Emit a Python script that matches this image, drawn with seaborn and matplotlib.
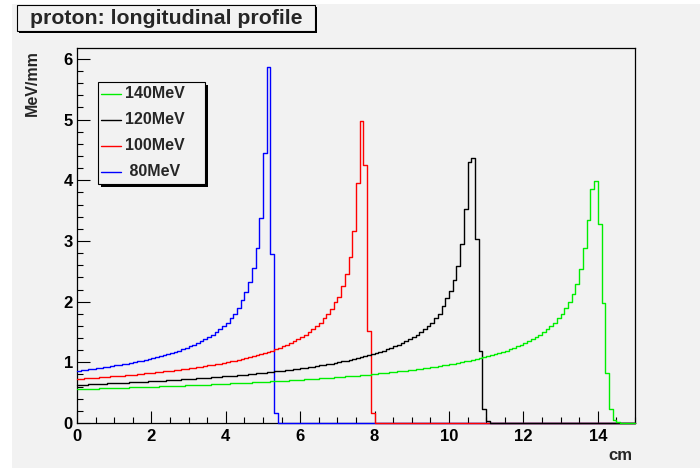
import numpy as np
import pandas as pd
import matplotlib
matplotlib.use("Agg")
import matplotlib.pyplot as plt
from matplotlib.patches import Rectangle
from matplotlib.lines import Line2D
from matplotlib.ticker import MultipleLocator
import seaborn as sns

# Longitudinal energy-deposit profiles of protons in water, 1 mm depth bins (0-15 cm).
n_bins = 150
depth_range_cm = (0, 15)
bin_centers_cm = 0.05 + 0.1 * np.arange(n_bins)

# dE/dx per bin [MeV/mm], listed from depth 0 until the beam has stopped.
dedx_80mev = [
    0.863, 0.870, 0.878, 0.886, 0.894, 0.902, 0.910, 0.919, 0.928, 0.938,
    0.948, 0.958, 0.968, 0.979, 0.990, 1.002, 1.014, 1.027, 1.040, 1.054,
    1.068, 1.084, 1.099, 1.116, 1.133, 1.152, 1.171, 1.192, 1.214, 1.237,
    1.262, 1.288, 1.316, 1.347, 1.380, 1.416, 1.454, 1.497, 1.545, 1.597,
    1.656, 1.723, 1.800, 1.90, 2.03, 2.16, 2.33, 2.56, 2.89, 3.38,
    4.45, 5.87, 2.79, 0.16,
]
dedx_100mev = [
    0.726, 0.730, 0.735, 0.739, 0.743, 0.748, 0.753, 0.757, 0.762, 0.767,
    0.772, 0.777, 0.782, 0.788, 0.793, 0.799, 0.804, 0.810, 0.816, 0.822,
    0.829, 0.835, 0.842, 0.849, 0.856, 0.863, 0.870, 0.878, 0.886, 0.894,
    0.902, 0.910, 0.919, 0.928, 0.938, 0.948, 0.958, 0.968, 0.979, 0.990,
    1.002, 1.014, 1.027, 1.040, 1.054, 1.068, 1.084, 1.099, 1.116, 1.133,
    1.152, 1.171, 1.192, 1.214, 1.237, 1.262, 1.288, 1.316, 1.347, 1.380,
    1.416, 1.454, 1.497, 1.545, 1.597, 1.656, 1.723, 1.800, 1.88, 1.99,
    2.08, 2.25, 2.45, 2.73, 3.17, 3.96, 4.97, 4.25, 1.52, 0.16,
]
dedx_120mev = [
    0.629, 0.632, 0.634, 0.637, 0.639, 0.642, 0.645, 0.648, 0.651, 0.654,
    0.657, 0.659, 0.663, 0.666, 0.669, 0.672, 0.675, 0.678, 0.682, 0.685,
    0.688, 0.692, 0.695, 0.699, 0.703, 0.707, 0.710, 0.714, 0.718, 0.722,
    0.726, 0.730, 0.735, 0.739, 0.743, 0.748, 0.753, 0.757, 0.762, 0.767,
    0.772, 0.777, 0.782, 0.788, 0.793, 0.799, 0.804, 0.810, 0.816, 0.822,
    0.829, 0.835, 0.842, 0.849, 0.856, 0.863, 0.870, 0.878, 0.886, 0.894,
    0.902, 0.910, 0.919, 0.928, 0.938, 0.948, 0.958, 0.968, 0.979, 0.990,
    1.002, 1.014, 1.027, 1.040, 1.054, 1.068, 1.084, 1.099, 1.116, 1.133,
    1.152, 1.171, 1.192, 1.214, 1.237, 1.262, 1.288, 1.316, 1.347, 1.380,
    1.416, 1.454, 1.497, 1.545, 1.597, 1.656, 1.723, 1.800, 1.92, 2.06,
    2.17, 2.35, 2.58, 2.95, 3.53, 4.30, 4.37, 3.03, 1.18, 0.23,
    0.03,
]
dedx_140mev = [
    0.559, 0.561, 0.563, 0.565, 0.566, 0.568, 0.570, 0.572, 0.574, 0.576,
    0.578, 0.580, 0.582, 0.584, 0.586, 0.588, 0.590, 0.592, 0.594, 0.596,
    0.598, 0.600, 0.603, 0.605, 0.607, 0.609, 0.612, 0.614, 0.617, 0.619,
    0.621, 0.624, 0.626, 0.629, 0.632, 0.634, 0.637, 0.639, 0.642, 0.645,
    0.648, 0.651, 0.654, 0.657, 0.659, 0.663, 0.666, 0.669, 0.672, 0.675,
    0.678, 0.682, 0.685, 0.688, 0.692, 0.695, 0.699, 0.703, 0.707, 0.710,
    0.714, 0.718, 0.722, 0.726, 0.730, 0.735, 0.739, 0.743, 0.748, 0.753,
    0.757, 0.762, 0.767, 0.772, 0.777, 0.782, 0.788, 0.793, 0.799, 0.804,
    0.810, 0.816, 0.822, 0.829, 0.835, 0.842, 0.849, 0.856, 0.863, 0.870,
    0.878, 0.886, 0.894, 0.902, 0.910, 0.919, 0.928, 0.938, 0.948, 0.958,
    0.968, 0.979, 0.990, 1.002, 1.014, 1.027, 1.040, 1.054, 1.068, 1.084,
    1.099, 1.116, 1.133, 1.152, 1.171, 1.192, 1.214, 1.237, 1.262, 1.288,
    1.316, 1.347, 1.380, 1.416, 1.454, 1.497, 1.545, 1.597, 1.656, 1.723,
    1.800, 1.90, 1.99, 2.13, 2.29, 2.54, 2.88, 3.35, 3.86, 3.98,
    3.28, 1.97, 0.83, 0.23, 0.05, 0.01,
]

energy_labels = ["80MeV", "100MeV", "120MeV", "140MeV"]
line_colors = ["#0000ff", "#ff0000", "#000000", "#00ee00"]
profiles = [dedx_80mev, dedx_100mev, dedx_120mev, dedx_140mev]

BG = "#f2f2f2"
W, H = 700, 468

sns.set_theme(style="ticks")
plt.rcParams["font.family"] = ["Liberation Sans", "DejaVu Sans"]
plt.rcParams["font.weight"] = "bold"
plt.rcParams["axes.edgecolor"] = "black"
plt.rcParams["xtick.color"] = "black"
plt.rcParams["ytick.color"] = "black"


def fx(px):
    return px / W


def fy(py):
    return 1 - py / H


fig = plt.figure(figsize=(W / 100, H / 100), dpi=100, facecolor="white")
fig.patches.append(Rectangle((fx(12), 0), 1 - fx(12), fy(4),
                             transform=fig.transFigure, facecolor=BG,
                             edgecolor="none", zorder=-10))

ax = fig.add_axes([fx(77), fy(423), fx(635) - fx(77), fy(48) - fy(423)])
ax.set_facecolor(BG)

# lower energies first, so each later histogram lies over the earlier ones
for label, values, color in zip(energy_labels, profiles, line_colors):
    df = pd.DataFrame({"depth": bin_centers_cm[:len(values)], "dedx": values})
    sns.histplot(data=df, x="depth", weights="dedx", bins=n_bins,
                 binrange=depth_range_cm, element="step", fill=False,
                 color=color, linewidth=1.0, clip_on=False, zorder=3, ax=ax)

ax.set_xlim(*depth_range_cm)
ax.set_ylim(0, 6.18)
ax.set_xlabel("")
ax.set_ylabel("")
ax.xaxis.set_major_locator(MultipleLocator(2))
ax.xaxis.set_minor_locator(MultipleLocator(0.5))
ax.yaxis.set_major_locator(MultipleLocator(1))
ax.yaxis.set_minor_locator(MultipleLocator(0.2))
ax.tick_params(which="both", direction="in", top=False, right=False,
               width=0.8, labelsize=12)
ax.tick_params(which="major", length=9)
ax.tick_params(which="minor", length=4.5)
ax.tick_params(axis="x", pad=4)
ax.tick_params(axis="y", pad=3)
for spine in ax.spines.values():
    spine.set_linewidth(0.9)
    spine.set_color("black")

# axis titles at the far ends of the axes
fig.text(fx(32), fy(50), "MeV/mm", rotation=90, ha="center", va="top",
         fontsize=11.5, fontweight="bold")
fig.text(fx(632), fy(455), "cm", ha="right", va="center",
         fontsize=12, fontweight="bold")

# title box with drop shadow
fig.patches.append(Rectangle((fx(19), fy(33)), fx(317) - fx(19), fy(7) - fy(33),
                             transform=fig.transFigure, facecolor="black",
                             edgecolor="none", zorder=5))
fig.patches.append(Rectangle((fx(17), fy(31)), fx(315) - fx(17), fy(5) - fy(31),
                             transform=fig.transFigure, facecolor=BG,
                             edgecolor="black", linewidth=0.8, zorder=6))
fig.text(fx(166), fy(18.5), "proton: longitudinal profile", ha="center",
         va="center", fontsize=15.3, fontweight="bold", zorder=7)

# legend box with drop shadow, highest energy on top
fig.patches.append(Rectangle((fx(101), fy(187)), fx(208) - fx(101), fy(85) - fy(187),
                             transform=fig.transFigure, facecolor="black",
                             edgecolor="none", zorder=5))
fig.patches.append(Rectangle((fx(98), fy(184)), fx(205) - fx(98), fy(82) - fy(184),
                             transform=fig.transFigure, facecolor=BG,
                             edgecolor="black", linewidth=0.8, zorder=6))
row_y = [94, 120, 146, 172]
for i, (label, color) in enumerate(zip(energy_labels[::-1], line_colors[::-1])):
    fig.add_artist(Line2D([fx(101), fx(121)], [fy(row_y[i])] * 2, color=color,
                          linewidth=1.0, transform=fig.transFigure, zorder=7))
    text = label if len(label) > 5 else " " + label
    fig.text(fx(125), fy(row_y[i]), text, ha="left", va="center",
             fontsize=11.5, fontweight="bold", zorder=7)

fig.savefig("out.png", dpi=100, facecolor=fig.get_facecolor())
